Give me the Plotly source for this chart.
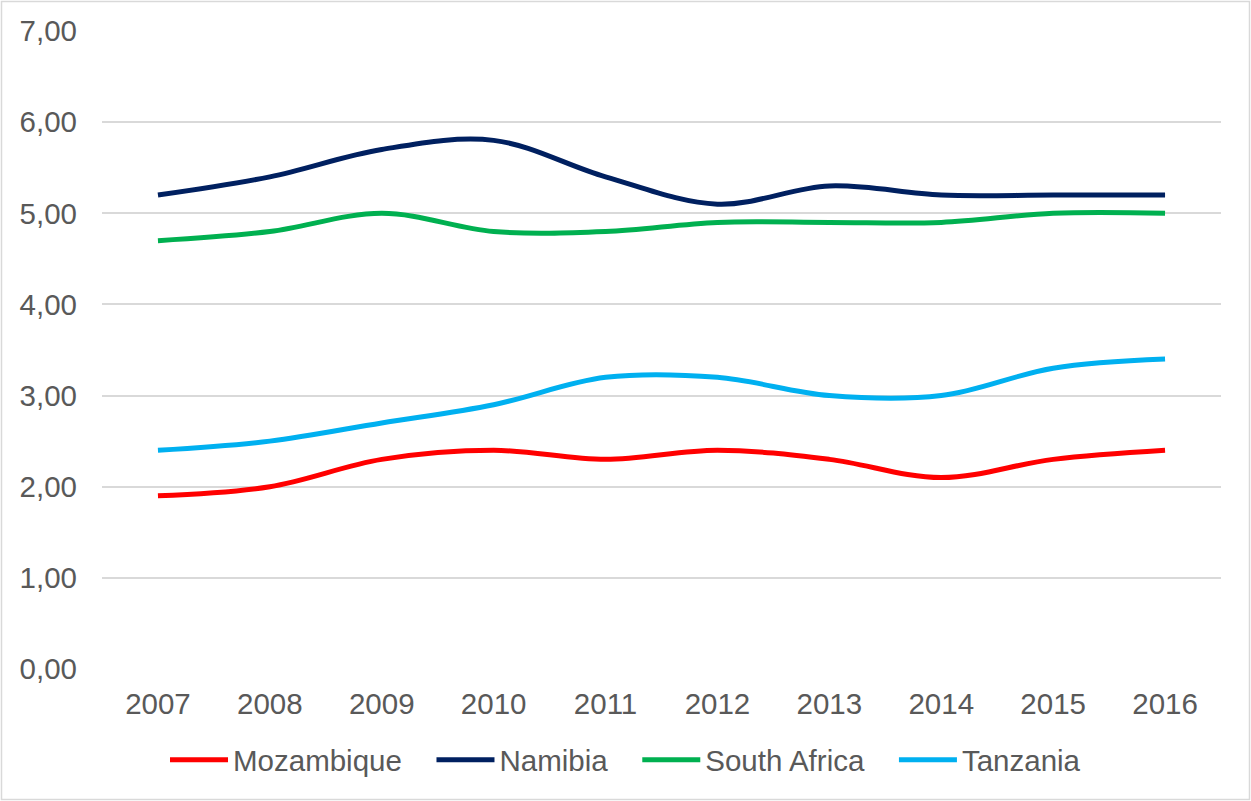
import plotly.graph_objects as go

years = ["2007", "2008", "2009", "2010", "2011", "2012", "2013", "2014", "2015", "2016"]
mozambique = [1.9, 2.0, 2.3, 2.4, 2.3, 2.4, 2.3, 2.1, 2.3, 2.4]
namibia = [5.2, 5.4, 5.7, 5.8, 5.4, 5.1, 5.3, 5.2, 5.2, 5.2]
south_africa = [4.7, 4.8, 5.0, 4.8, 4.8, 4.9, 4.9, 4.9, 5.0, 5.0]
tanzania = [2.4, 2.5, 2.7, 2.9, 3.2, 3.2, 3.0, 3.0, 3.3, 3.4]
y_ticks = [0, 1, 2, 3, 4, 5, 6, 7]
y_tick_labels = ["0,00", "1,00", "2,00", "3,00", "4,00", "5,00", "6,00", "7,00"]

series = [
    ("Mozambique", mozambique, "#FF0000"),
    ("Namibia", namibia, "#002060"),
    ("South Africa", south_africa, "#00B050"),
    ("Tanzania", tanzania, "#00B0F0"),
]

PAD = "\u00a0" * 3

fig = go.Figure()
for i, (name, vals, color) in enumerate(series):
    label = name + (PAD if i < len(series) - 1 else "")
    fig.add_trace(go.Scatter(
        x=years, y=vals, name=label, mode="lines",
        line=dict(color=color, width=5, shape="spline", smoothing=1.0),
    ))

W, H = 1251, 801
ml, mr, mt, mb = 102, 30, 31, 132
pw, ph = W - ml - mr, H - mt - mb
FS = 29.5

fig.update_layout(
    width=W, height=H,
    margin=dict(l=ml, r=mr, t=mt, b=mb),
    paper_bgcolor="white", plot_bgcolor="white",
    font=dict(family="Liberation Sans, Arial, sans-serif", size=FS, color="#595959"),
    showlegend=True,
    legend=dict(
        orientation="h", xref="container", x=0.5, xanchor="center",
        yref="container", y=(H - 760) / H, yanchor="middle",
        font=dict(size=FS, color="#595959"),
        itemwidth=58, traceorder="normal",
    ),
    xaxis=dict(
        type="category", range=[-0.5, 9.5], showgrid=False, zeroline=False,
        showline=False, ticks="", ticklabelstandoff=14,
    ),
    yaxis=dict(
        range=[0, 7], tickvals=y_ticks, ticktext=y_tick_labels,
        showgrid=True, gridcolor="#D9D9D9", gridwidth=1.5, zeroline=False,
        showline=False, ticks="", ticklabelstandoff=24,
    ),
    shapes=[dict(
        type="rect", xref="paper", yref="paper",
        x0=(1.5 - ml) / pw, x1=(W - 1.5 - ml) / pw,
        y0=-(mb - 1.5) / ph, y1=1 + (mt - 1.5) / ph,
        line=dict(color="#D9D9D9", width=1.5), fillcolor="rgba(0,0,0,0)",
        layer="below",
    )],
)

fig.write_html("out.html")
